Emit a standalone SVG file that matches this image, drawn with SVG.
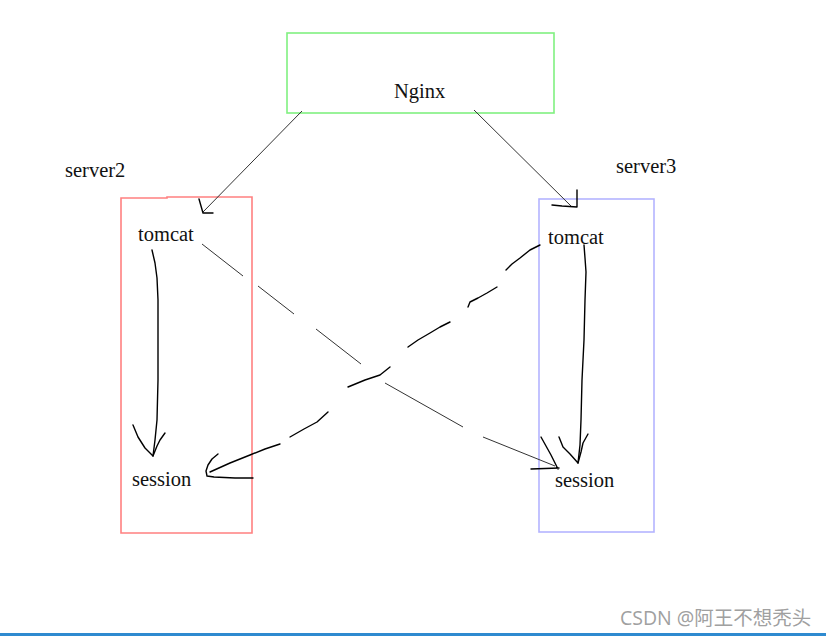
<svg xmlns="http://www.w3.org/2000/svg" width="826" height="636" viewBox="0 0 826 636">
<style>
.lbl{font-family:"Liberation Serif","Times New Roman",serif;font-size:20.5px;fill:#111}
.thin{fill:none;stroke:#333;stroke-width:1}
.pen{fill:none;stroke:#000;stroke-width:1.4;stroke-linecap:round;stroke-linejoin:round}
.wm{font-family:"Open Sans","Noto Sans","Noto Sans CJK SC",sans-serif;font-size:19.5px;fill:#a0a0a0}
</style>
<rect width="826" height="636" fill="#fff"/>
<g id="nginx">
<rect x="287" y="33" width="267" height="80" fill="none" stroke="#80f080" stroke-width="1.6"/>
<text class="lbl" x="394" y="98">Nginx</text>
</g>
<g id="server2">
<text class="lbl" x="65" y="177">server2</text>
<path d="M121,198 H167 V197 H252 V533 H121 Z" fill="none" stroke="#ff8080" stroke-width="1.6"/>
<text class="lbl" x="138" y="241">tomcat</text>
<text class="lbl" x="132" y="486">session</text>
</g>
<g id="server3">
<text class="lbl" x="616" y="173">server3</text>
<rect x="539" y="199" width="115" height="333" fill="none" stroke="#b4b4ff" stroke-width="1.6"/>
<text class="lbl" x="548" y="244">tomcat</text>
<text class="lbl" x="555" y="487">session</text>
</g>
<g id="connectors">
<path class="thin" d="M302,111 L203,212"/>
<path class="pen" d="M199,199 L201,206 L203,213 H213"/>
<path class="thin" d="M474,110 L572,207"/>
<path class="pen" d="M577,190 L577,207 L562,206 L552,205"/>
<path class="thin" d="M202,244 L243,276 M258,286 L294,314 M316,329 L361,364 M385,383 L463,427 M483,437 L555,466"/>
<path class="pen" d="M541,437 L546,446 L551,455 L558,469 M531,469 L559,468"/>
<path class="pen" d="M584,245 L585,258 L586,272 L585,300 L584,340 L582,380 L581,420 L580,445 L578,463"/>
<path class="pen" d="M559,437 L563,447 L570,454 L578,463 L581,452 L583,443 L588,434"/>
<path class="pen" d="M152,250 L155,263 L157,278 L158,300 L158,340 L158,380 L157,420 L155,440 L153,456"/>
<path class="pen" d="M133,425 L138,437 L145,448 L153,456 L157,446 L160,440 L165,433"/>
<path class="pen" d="M540,245 L530,250 L520,258 L512,264 L506,270"/>
<path class="pen" d="M497,287 L487,293 L478,298 L470,302 L468,307"/>
<path class="pen" d="M450,322 L440,327 L430,333 L418,340 L408,347"/>
<path class="pen" d="M390,367 L380,375 L365,380 L348,387"/>
<path class="pen" d="M328,412 L317,422 L304,429 L290,437"/>
<path class="pen" d="M280,444 L265,449 L250,455 L230,463 L210,472"/>
<path class="pen" d="M218,454 L212,459 L208,465 L206,471 L207,476 L214,477 L235,478 L253,478"/>
</g>
<text class="wm" x="620" y="625">CSDN @阿王不想秃头</text>
<rect x="0" y="633" width="826" height="3" fill="#2e8ad0"/>
</svg>
